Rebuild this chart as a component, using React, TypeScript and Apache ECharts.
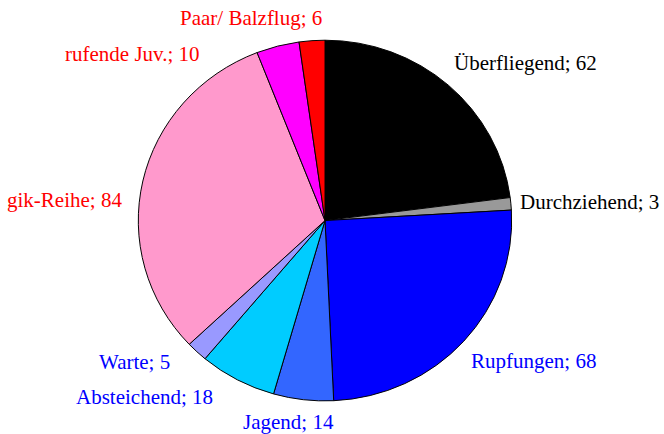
import React, { useEffect, useRef } from "react";
import * as echarts from "echarts";

const categories = [
  "Überfliegend",
  "Durchziehend",
  "Rupfungen",
  "Jagend",
  "Absteichend",
  "Warte",
  "gik-Reihe",
  "rufende Juv.",
  "Paar/ Balzflug",
];
const values = [62, 3, 68, 14, 18, 5, 84, 10, 6];
const sliceColors = [
  "#000000",
  "#999999",
  "#0000FF",
  "#3366FF",
  "#00CCFF",
  "#9999FF",
  "#FF99CC",
  "#FF00FF",
  "#FF0000",
];
const labelColors = [
  "#000000",
  "#000000",
  "#0000FF",
  "#0000FF",
  "#0000FF",
  "#0000FF",
  "#FF0000",
  "#FF0000",
  "#FF0000",
];
// label anchor (left edge, vertical middle) in pixels
const labelAnchors: [number, number][] = [
  [454, 63],
  [520, 202],
  [471, 361],
  [243, 422],
  [76, 397],
  [99, 362],
  [7, 200],
  [65, 54],
  [180, 18],
];

const CX = 325;
const CY = 220.5;
const RX = 186.7;
const RY = 180.3;
const FONT = "Liberation Serif";

export default function App() {
  const ref = useRef<HTMLDivElement>(null);
  useEffect(() => {
    if (!ref.current) return;
    const chart = echarts.init(ref.current, undefined, { renderer: "svg" });
    const total = values.reduce((a, b) => a + b, 0);
    const starts: number[] = [];
    let acc = 0;
    for (const v of values) {
      starts.push(acc);
      acc += v;
    }
    chart.setOption({
      animation: false,
      backgroundColor: "#ffffff",
      series: [
        {
          type: "custom",
          coordinateSystem: "none",
          silent: true,
          data: categories.map((c, i) => ({ name: c, value: values[i] })),
          renderItem: (params: any, api: any) => {
            const i = params.dataIndex;
            const v = api.value(0);
            const a0 = -Math.PI / 2 + (starts[i] / total) * Math.PI * 2;
            const a1 = a0 + (v / total) * Math.PI * 2;
            const a = labelAnchors[i];
            return {
              type: "group",
              children: [
                {
                  type: "sector",
                  shape: {
                    cx: CX,
                    cy: CY,
                    r: RX,
                    r0: 0,
                    startAngle: a0,
                    endAngle: a1,
                    clockwise: true,
                  },
                  originX: CX,
                  originY: CY,
                  scaleY: RY / RX,
                  style: {
                    fill: sliceColors[i],
                    stroke: "#000000",
                    lineWidth: 1,
                    strokeNoScale: true,
                  },
                },
                {
                  type: "text",
                  x: a[0],
                  y: a[1],
                  style: {
                    text: `${categories[i]}; ${v}`,
                    fill: labelColors[i],
                    fontFamily: FONT,
                    fontSize: 21,
                    align: "left",
                    verticalAlign: "middle",
                  },
                },
              ],
            };
          },
        },
      ],
    });
    return () => chart.dispose();
  }, []);
  return (
    <div
      ref={ref}
      style={{ position: "fixed", left: 0, top: 0, width: 664, height: 434 }}
    />
  );
}
